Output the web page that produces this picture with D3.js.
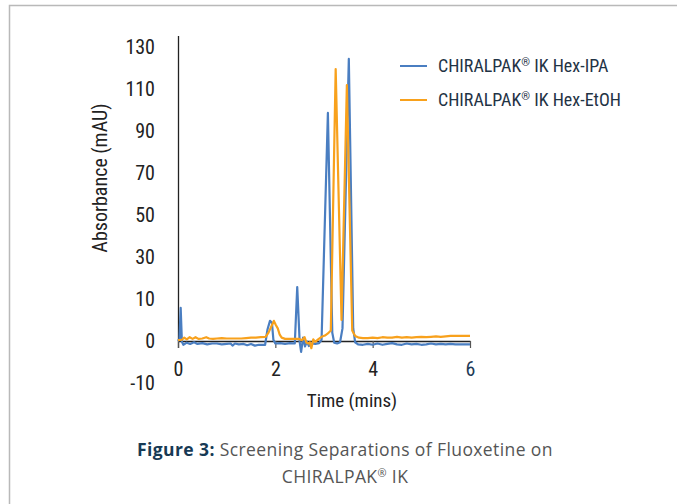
<!DOCTYPE html>
<html>
<head>
<meta charset="utf-8">
<script src="https://cdn.jsdelivr.net/npm/d3@7"></script>
<style>
  html, body { margin: 0; padding: 0; background: #fff; }
  svg { display: block; }
</style>
</head>
<body>
<svg id="chart" width="677" height="504"></svg>
<script>
// ---- data ----
const seriesNames = ["CHIRALPAK® IK Hex-IPA", "CHIRALPAK® IK Hex-EtOH"];
const seriesColors = ["#4a7ec1", "#f8a11c"];

const ipaTime = [0.00,0.03,0.055,0.08,0.11,0.18,0.25,0.33,0.40,0.50,0.60,0.70,0.80,0.90,1.00,1.08,1.12,1.17,1.25,1.35,1.42,1.50,1.58,1.66,1.74,1.79,1.84,1.89,1.93,1.96,2.00,2.10,2.20,2.30,2.40,2.45,2.50,2.53,2.57,2.61,2.65,2.69,2.74,2.82,2.90,2.95,3.08,3.17,3.21,3.27,3.33,3.38,3.51,3.60,3.64,3.70,3.80,3.90,4.00,4.10,4.20,4.30,4.40,4.50,4.60,4.70,4.80,4.90,5.00,5.10,5.20,5.30,5.40,5.50,5.60,5.70,5.80,5.90,6.00];
const ipaValue = [0.0,0.5,7.9,-0.2,-0.9,-0.4,-0.7,-0.3,-0.7,-0.5,-0.8,-0.6,-0.6,-0.8,-0.7,-0.6,-1.1,-0.6,-0.8,-0.7,-1.0,-0.7,-1.1,-0.9,-0.9,-0.9,2.8,4.8,4.4,0.3,-0.6,-0.5,-0.7,-0.5,-0.6,15.7,-0.2,-2.6,0.8,-1.3,-0.1,-1.2,-0.6,-0.7,-0.5,0.3,98.6,2.0,-0.4,-0.6,-0.3,3.0,124.3,3.0,-0.3,-0.8,-0.9,-0.7,-0.9,-0.6,-0.9,-0.7,-0.5,-0.8,-0.9,-0.6,-0.8,-0.7,-0.9,-0.8,-0.6,-0.8,-0.7,-0.8,-0.7,-0.8,-0.8,-0.8,-0.8];

const etohTime = [0.00,0.08,0.13,0.18,0.24,0.30,0.36,0.42,0.50,0.58,0.64,0.72,0.80,0.90,1.00,1.10,1.20,1.30,1.40,1.50,1.60,1.70,1.80,1.86,1.92,1.97,2.01,2.05,2.09,2.13,2.20,2.30,2.40,2.48,2.55,2.60,2.64,2.68,2.71,2.74,2.78,2.82,2.88,2.95,3.02,3.08,3.14,3.24,3.36,3.47,3.58,3.64,3.72,3.80,3.90,4.00,4.10,4.20,4.30,4.40,4.50,4.60,4.70,4.80,4.90,5.00,5.10,5.20,5.30,5.40,5.50,5.60,5.70,5.80,5.90,6.00];
const etohValue = [0.2,0.3,0.8,0.4,0.9,0.5,0.9,0.5,0.6,0.9,0.6,0.5,0.6,0.7,0.6,0.6,0.6,0.6,0.7,0.8,0.8,0.9,1.0,2.0,3.5,4.8,3.8,3.0,1.5,0.8,0.5,0.5,0.5,0.5,0.2,0.9,-0.4,-0.6,-0.3,-1.7,0.4,-0.2,0.4,1.0,1.3,1.8,2.5,119.5,5.0,111.9,2.5,1.2,0.8,0.7,0.7,0.8,0.7,0.9,0.8,0.8,1.0,0.8,0.9,0.8,0.9,1.0,0.9,1.0,1.1,1.0,1.1,1.2,1.2,1.2,1.2,1.2];

const xTicks = [0, 2, 4, 6];
const yTickLabels = [130, 110, 90, 70, 50, 30, 10, 0, -10];

const xTitle = "Time (mins)";
const yTitle = "Absorbance (mAU)";
const captionBold = "Figure 3:";
const captionRest = " Screening Separations of Fluoxetine on";
const captionLine2 = "CHIRALPAK® IK";

// ---- drawing ----
const svg = d3.select("#chart");
const FONT = "'Liberation Sans Narrow', 'Roboto Condensed', 'DejaVu Sans Condensed', sans-serif";

// writes a string into a text element, shrinking and raising the ® sign
function richText(sel, str, size) {
  const parts = str.split("®");
  parts.forEach((p, i) => {
    if (i > 0) {
      sel.append("tspan").attr("font-size", size * 0.62).attr("dy", -size * 0.33).text("®");
      sel.append("tspan").attr("dy", size * 0.33).text(p);
    } else {
      sel.append("tspan").text(p);
    }
  });
}

svg.append("rect").attr("width", 677).attr("height", 504).attr("fill", "#fff");
svg.append("rect").attr("x", 9.5).attr("y", 5.5).attr("width", 720).attr("height", 540)
  .attr("fill", "none").attr("stroke", "#b9b9b9").attr("stroke-width", 1.5);

const x = d3.scaleLinear().domain([0, 6]).range([178, 470]);
// tick labels in the source are evenly spaced: piecewise scale
const y = d3.scaleLinear().domain([-10, 0, 10, 130]).range([383, 341, 299, 47]);

// y axis line
svg.append("line").attr("x1", 178.5).attr("x2", 178.5).attr("y1", 36).attr("y2", 348)
  .attr("stroke", "#222").attr("stroke-width", 1.3);

// y tick labels
svg.append("g").selectAll("text").data(yTickLabels).join("text")
  .attr("x", 155).attr("y", d => y(d)).attr("dy", "0.35em")
  .attr("text-anchor", "end")
  .attr("font-family", FONT).attr("font-size", 20).attr("fill", "#222")
  .text(d => d);

// x axis
const xAxisG = svg.append("g").attr("transform", `translate(0,${y(0)})`)
  .call(d3.axisBottom(x).tickValues(xTicks).tickFormat(d3.format("d"))
    .tickSize(7).tickPadding(14).tickSizeOuter(0));
xAxisG.select(".domain").attr("stroke", "#222").attr("stroke-width", 1.3);
xAxisG.selectAll(".tick line").attr("stroke", "#555").attr("stroke-width", 1.2);
xAxisG.selectAll(".tick text").attr("font-family", FONT).attr("font-size", 20)
  .attr("fill", (d) => d === 6 ? "#1d3a56" : "#222");

// lines
const line = d3.line().x(d => x(d[0])).y(d => y(d[1]));
const ipaData = ipaTime.map((t, i) => [t, ipaValue[i]]);
const etohData = etohTime.map((t, i) => [t, etohValue[i]]);

svg.append("path").datum(ipaData).attr("d", line)
  .attr("fill", "none").attr("stroke", seriesColors[0]).attr("stroke-width", 2.2)
  .attr("stroke-linejoin", "round");
svg.append("path").datum(etohData).attr("d", line)
  .attr("fill", "none").attr("stroke", seriesColors[1]).attr("stroke-width", 2.2)
  .attr("stroke-linejoin", "round");

// axis titles
svg.append("text").attr("x", 352).attr("y", 407).attr("text-anchor", "middle")
  .attr("font-family", FONT).attr("font-size", 19).attr("fill", "#222").text(xTitle);
svg.append("text").attr("transform", "translate(107,178) rotate(-90)")
  .attr("text-anchor", "middle")
  .attr("font-family", FONT).attr("font-size", 20).attr("fill", "#222").text(yTitle);

// legend
const leg = svg.append("g");
seriesNames.forEach((name, i) => {
  const ly = 66 + i * 34;
  leg.append("line").attr("x1", 400).attr("x2", 427).attr("y1", ly).attr("y2", ly)
    .attr("stroke", seriesColors[i]).attr("stroke-width", 2);
  const t = leg.append("text").attr("x", 438).attr("y", ly + 6)
    .attr("font-family", FONT).attr("font-size", 18).attr("fill", "#1f3345");
  richText(t, name, 18);
});

// caption
const cap = svg.append("text").attr("x", 345).attr("y", 456).attr("text-anchor", "middle")
  .attr("font-family", "'Open Sans', sans-serif").attr("font-size", 17.5).attr("letter-spacing", 0.4);
cap.append("tspan").attr("font-weight", "bold").attr("fill", "#173a55").text(captionBold);
cap.append("tspan").attr("fill", "#555").text(captionRest);
const cap2 = svg.append("text").attr("x", 345).attr("y", 483).attr("text-anchor", "middle")
  .attr("font-family", "'Open Sans', sans-serif").attr("font-size", 17.5).attr("letter-spacing", 0.4)
  .attr("fill", "#555");
richText(cap2, captionLine2, 17.5);
</script>
</body>
</html>
